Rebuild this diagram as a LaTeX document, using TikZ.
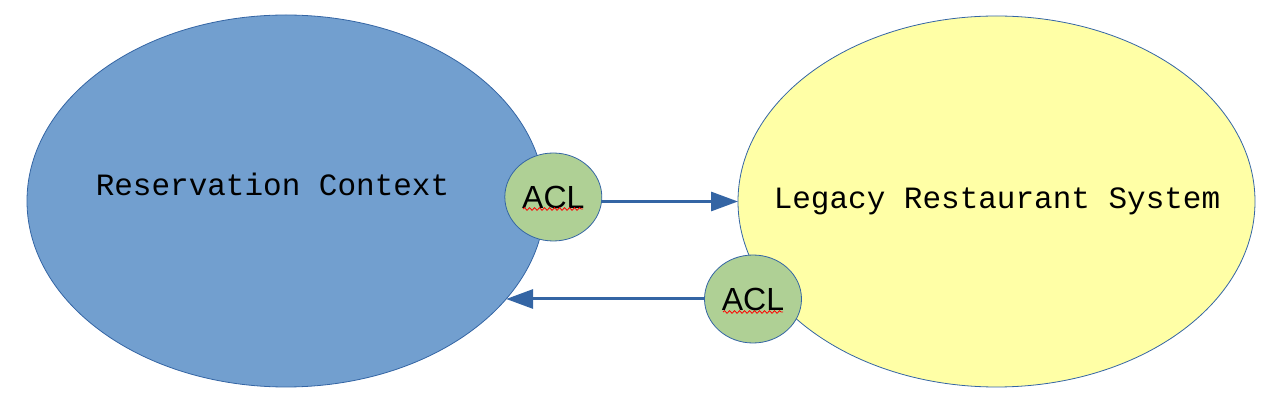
\documentclass[tikz,border=0pt]{standalone}
\usepackage{fontspec}
\setmainfont{Liberation Sans}
\newfontfamily\monofam{Liberation Mono}
\usetikzlibrary{shapes.geometric,arrows.meta,decorations.pathmorphing}
\definecolor{lineblue}{HTML}{3465A4}
\definecolor{ctxblue}{HTML}{729FCF}
\definecolor{legyellow}{HTML}{FFFFA6}
\definecolor{aclgreen}{HTML}{AFD095}
\tikzset{
  ctx/.style={ellipse, draw=lineblue, line width=0.8pt, inner sep=0pt, outer sep=0pt},
  acl/.style={ellipse, draw=lineblue, line width=0.8pt, fill=aclgreen, minimum width=97pt, minimum height=88pt, inner sep=0pt, outer sep=0pt, font=\fontsize{32}{36}\selectfont},
  lbl/.style={font=\monofam\fontsize{31}{35}\selectfont, inner sep=0pt},
  conn/.style={draw=lineblue, line width=3pt, -{Triangle[length=27pt,width=19pt]}},
  spell/.style={draw=red, line width=0.8pt, decorate, decoration={snake, amplitude=1.3pt, segment length=5pt}}
}
\begin{document}
\begin{tikzpicture}[x=1pt,y=-1pt]
\useasboundingbox (0,0) rectangle (1277,411);
\node[ctx, fill=ctxblue, minimum width=518pt, minimum height=372pt] (res) at (286,201) {};
\node[ctx, fill=legyellow, minimum width=517pt, minimum height=371pt] (legacy) at (996.5,201.5) {};
\node[lbl] (restext) at (272.5,184) {Reservation Context};
\node[lbl] (legtext) at (997,201) {Legacy Restaurant System};
\node[acl] (acl1) at (553.3,197) {ACL};
\node[acl] (acl2) at (753,299) {ACL};
\draw[conn] (acl1.east |- legacy.west) -- (legacy.west);
\draw[conn] (acl2.west) -- (acl2.west -| res.-24);
\coordinate (w1a) at (523,209);
\coordinate (w1b) at (583,209);
\coordinate (w2a) at (723,312);
\coordinate (w2b) at (783,312);
\draw[spell] (w1a) -- (w1b);
\draw[spell] (w2a) -- (w2b);
\end{tikzpicture}
\end{document}
